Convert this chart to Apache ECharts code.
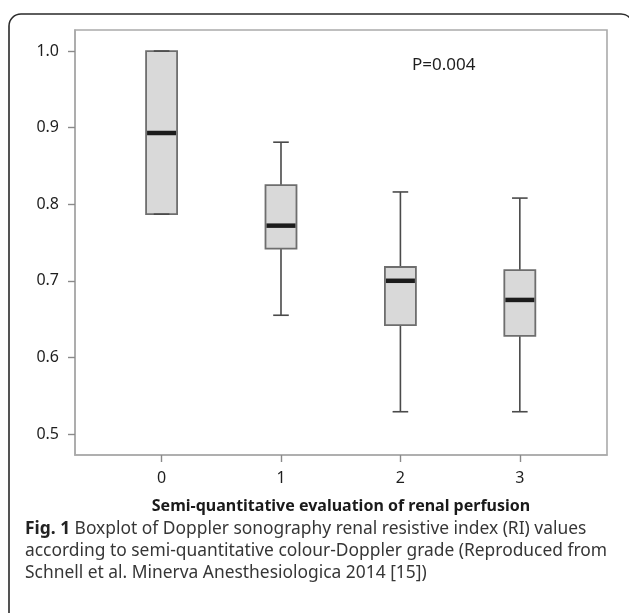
<!DOCTYPE html>
<html>
<head>
<meta charset="utf-8">
<script src="https://cdn.jsdelivr.net/npm/echarts@6/dist/echarts.min.js"></script>
<style>
html,body{margin:0;padding:0;background:#fff;}
#chart{width:629px;height:613px;}
</style>
</head>
<body>
<div id="chart"></div>
<script>
// ---- data ----
const categories = [0, 1, 2, 3];
const categoryLabels = ['0', '1', '2', '3'];
const whiskerLow  = [0.787, 0.655, 0.529, 0.529];
const quartile1   = [0.787, 0.742, 0.642, 0.628];
const medians     = [0.893, 0.772, 0.700, 0.675];
const quartile3   = [1.000, 0.825, 0.718, 0.714];
const whiskerHigh = [1.000, 0.881, 0.816, 0.808];
const yTickValues = [0.5, 0.6, 0.7, 0.8, 0.9, 1.0];
const pValueText = 'P=0.004';
const xAxisTitle = 'Semi-quantitative evaluation of renal perfusion';
const captionLines = [
  'Boxplot of Doppler sonography renal resistive index (RI) values',
  'according to semi-quantitative colour-Doppler grade (Reproduced from',
  'Schnell et al. Minerva Anesthesiologica 2014 [15])'
];

const boxData = categories.map((c, i) => [c, whiskerLow[i], quartile1[i], medians[i], quartile3[i], whiskerHigh[i]]);

const chart = echarts.init(document.getElementById('chart'), null, {renderer: 'canvas'});

function renderItem(params, api) {
  const x = api.value(0);
  const pMin = api.coord([x, api.value(1)]);
  const pQ1 = api.coord([x, api.value(2)]);
  const pMed = api.coord([x, api.value(3)]);
  const pQ3 = api.coord([x, api.value(4)]);
  const pMax = api.coord([x, api.value(5)]);
  const cx = pMed[0];
  const bw = 31, cw = 15.6;
  const wStyle = {stroke: '#4a4a4a', lineWidth: 1.6};
  return {
    type: 'group',
    children: [
      {type: 'line', shape: {x1: cx, y1: pQ3[1], x2: cx, y2: pMax[1]}, style: wStyle},
      {type: 'line', shape: {x1: cx, y1: pQ1[1], x2: cx, y2: pMin[1]}, style: wStyle},
      {type: 'rect', shape: {x: cx - bw / 2, y: pQ3[1], width: bw, height: pQ1[1] - pQ3[1]},
        style: {fill: '#d9d9d9', stroke: '#6e6e6e', lineWidth: 1.8}},
      {type: 'line', shape: {x1: cx - cw / 2, y1: pMax[1], x2: cx + cw / 2, y2: pMax[1]}, style: wStyle},
      {type: 'line', shape: {x1: cx - cw / 2, y1: pMin[1], x2: cx + cw / 2, y2: pMin[1]}, style: wStyle},
      {type: 'line', shape: {x1: cx - bw / 2 + 1, y1: pMed[1], x2: cx + bw / 2 - 1, y2: pMed[1]},
        style: {stroke: '#1c1c1c', lineWidth: 4.5}}
    ]
  };
}

const option = {
  animation: false,
  backgroundColor: '#fff',
  textStyle: {fontFamily: 'Noto Sans'},
  grid: {left: 75, top: 30, right: 22, bottom: 158, show: true, borderColor: '#aaaaaa', borderWidth: 1.6, containLabel: false},
  xAxis: {
    type: 'value',
    min: -0.725,
    max: 3.73,
    splitLine: {show: false},
    axisLine: {show: true, onZero: false, lineStyle: {color: '#aaaaaa', width: 1.6}},
    axisTick: {show: true, length: 7, lineStyle: {color: '#8a8a8a', width: 1.4}, customValues: categories},
    axisLabel: {
      customValues: categories,
      formatter: v => categoryLabels[categories.indexOf(Math.round(v))] ?? '',
      fontSize: 16, color: '#1e1e1e', margin: 15, fontFamily: 'Noto Sans'
    },
    name: xAxisTitle,
    nameLocation: 'middle',
    nameGap: 43,
    nameTextStyle: {fontSize: 16, fontWeight: 'bold', color: '#1a1a1a', fontFamily: 'Noto Sans'}
  },
  yAxis: {
    type: 'value',
    min: 0.4725,
    max: 1.0275,
    splitLine: {show: false},
    axisLine: {show: true, onZero: false, lineStyle: {color: '#aaaaaa', width: 1.6}},
    axisTick: {show: true, length: 7, lineStyle: {color: '#8a8a8a', width: 1.4}, customValues: yTickValues},
    axisLabel: {
      customValues: yTickValues,
      formatter: v => v.toFixed(1),
      fontSize: 16, color: '#1e1e1e', margin: 16, fontFamily: 'Noto Sans'
    }
  },
  graphic: [
    {type: 'rect', silent: true, z: 100,
      shape: {x: 9, y: 14, width: 624, height: 700, r: 12},
      style: {fill: 'none', stroke: '#2a2a2a', lineWidth: 1.6}},
    {type: 'text', left: 412, top: 57,
      style: {text: pValueText, fontSize: 17, fill: '#1e1e1e', fontFamily: 'Noto Sans'}},
    {type: 'text', left: 25, top: 518,
      style: {
        text: '{b|Fig. 1} ' + captionLines[0] + '\n' + captionLines[1] + '\n' + captionLines[2],
        rich: {
          b: {fontWeight: 'bold', fontSize: 17.4, fill: '#222', fontFamily: 'Noto Sans', lineHeight: 22}
        },
        fontSize: 17.4, fill: '#363636', fontFamily: 'Noto Sans', lineHeight: 22
      }}
  ],
  series: [{
    type: 'custom',
    renderItem: renderItem,
    data: boxData,
    encode: {x: 0, y: [1, 2, 3, 4, 5]},
    clip: false
  }]
};
chart.setOption(option);
</script>
</body>
</html>
